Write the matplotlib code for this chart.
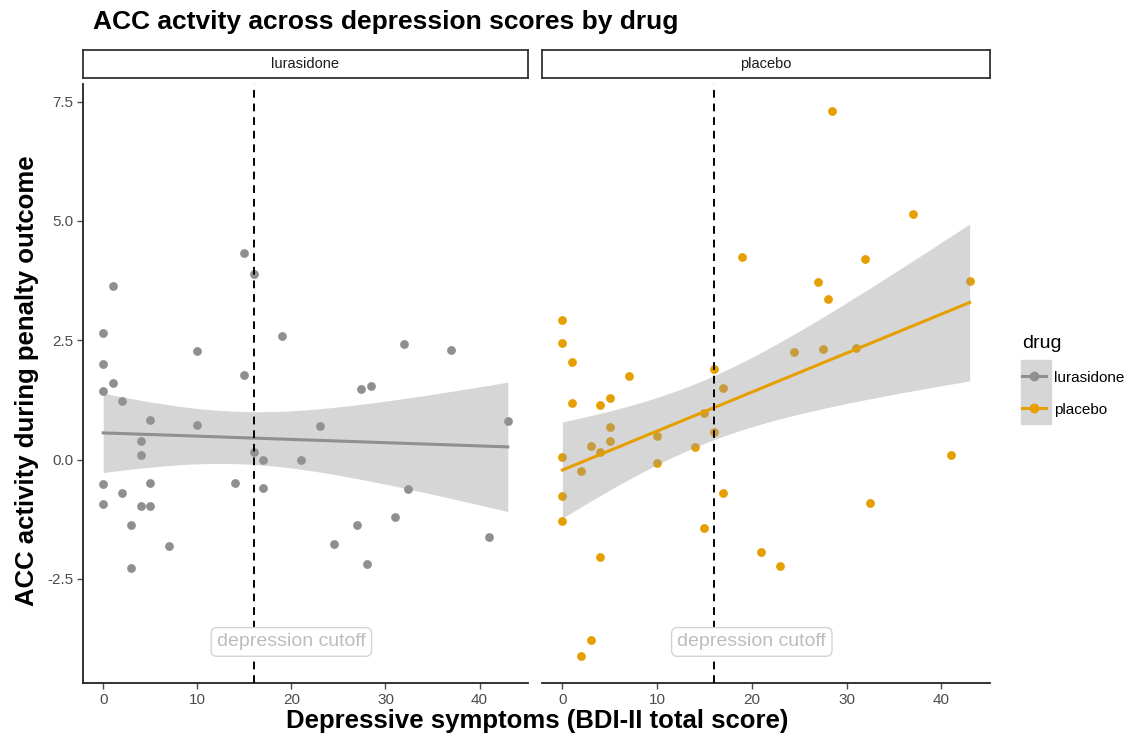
import numpy as np
import matplotlib.pyplot as plt
from matplotlib.lines import Line2D
from matplotlib.patches import Rectangle

plt.rcParams['font.family'] = ['Liberation Sans', 'DejaVu Sans']

drugs = ["lurasidone", "placebo"]
colors = {"lurasidone": "#8f8f8f", "placebo": "#E69F00"}

luras_bdi = [15, 16, 1, 0, 19, 32, 37, 10, 0, 15, 1, 0, 28.5, 27.4, 2, 5, 43, 10, 23,
             4, 4, 16, 17, 21, 0, 5, 14, 17, 2, 32.4, 0, 4, 5, 31, 3, 27, 41, 7, 24.5, 3, 28]
luras_acc = [4.33, 3.88, 3.64, 2.66, 2.59, 2.42, 2.30, 2.27, 2.00, 1.78, 1.60, 1.44, 1.55, 1.49,
             1.23, 0.83, 0.80, 0.73, 0.70, 0.39, 0.09, 0.16, 0.00, 0.00, -0.52, -0.49, -0.49,
             -0.60, -0.69, -0.62, -0.94, -0.98, -0.98, -1.20, -1.38, -1.38, -1.63, -1.81,
             -1.76, -2.28, -2.19]

plac_bdi = [28.5, 37, 19, 32, 27, 43, 28, 0, 0, 24.5, 27.5, 31, 1, 7, 16, 17, 1, 4, 5, 15,
            5, 5, 3, 10, 16, 4, 14, 0, 2, 10, 41, 0, 17, 32.5, 0, 15, 4, 21, 23, 3, 2]
plac_acc = [7.30, 5.15, 4.25, 4.20, 3.73, 3.75, 3.36, 2.92, 2.45, 2.25, 2.31, 2.33, 2.04, 1.75,
            1.89, 1.51, 1.18, 1.14, 1.29, 0.98, 0.68, 0.39, 0.29, 0.50, 0.57, 0.17, 0.26, 0.05,
            -0.23, -0.08, 0.10, -0.77, -0.70, -0.91, -1.28, -1.43, -2.05, -1.93, -2.22, -3.78,
            -4.11]

data = {"lurasidone": (luras_bdi, luras_acc), "placebo": (plac_bdi, plac_acc)}

cutoff = 16
yticks = [-2.5, 0.0, 2.5, 5.0, 7.5]
xticks = [0, 10, 20, 30, 40]


def lm_ci(x, y, grid, t=2.023):
    x = np.asarray(x, float)
    y = np.asarray(y, float)
    n = len(x)
    b, a = np.polyfit(x, y, 1)
    resid = y - (a + b * x)
    s = np.sqrt(np.sum(resid ** 2) / (n - 2))
    sxx = np.sum((x - x.mean()) ** 2)
    fit = a + b * grid
    se = s * np.sqrt(1.0 / n + (grid - x.mean()) ** 2 / sxx)
    return fit, fit - t * se, fit + t * se


fig = plt.figure(figsize=(11.34, 7.37), dpi=100)
W, H = 1134, 737
panels = [(83, 445), (542, 448)]
top, bottom = 84, 683

for i, (drug, (px, pw)) in enumerate(zip(drugs, panels)):
    ax = fig.add_axes([px / W, 1 - bottom / H, pw / W, (bottom - top) / H])
    x, y = data[drug]
    ax.scatter(x, y, s=40, color=colors[drug], zorder=2, linewidths=0)
    grid = np.linspace(min(x), max(x), 100)
    fit, lo, hi = lm_ci(x, y, grid)
    ax.fill_between(grid, lo, hi, color="#999999", alpha=0.4, linewidth=0, zorder=3)
    ax.plot(grid, fit, color=colors[drug], lw=2.2, zorder=4)
    ax.axvline(cutoff, color="black", ls=(0, (4, 3)), lw=1.4, zorder=5)
    ax.text(20, -3.82, "depression cutoff", ha="center", va="center", fontsize=14,
            color="#bdbdbd", zorder=6,
            bbox=dict(boxstyle="round,pad=0.3,rounding_size=0.3", fc="white",
                      ec="#d4d4d4", lw=1))
    ax.set_xlim(-2.15, 45.15)
    ax.set_ylim(-4.68, 7.87)
    ax.set_xticks(xticks)
    ax.set_yticks(yticks)
    ax.set_yticklabels([f"{v:.1f}" for v in yticks])
    for side in ["top", "right"]:
        ax.spines[side].set_visible(False)
    ax.spines["bottom"].set_linewidth(1.3)
    ax.spines["left"].set_linewidth(1.3)
    ax.spines["bottom"].set_color("#222222")
    ax.spines["left"].set_color("#222222")
    ax.tick_params(axis="both", colors="#4d4d4d", labelsize=11, length=4, width=1, pad=3)
    if i == 1:
        ax.spines["left"].set_visible(False)
        ax.tick_params(axis="y", left=False, labelleft=False)

    sax = fig.add_axes([px / W, 1 - 78 / H, pw / W, 28 / H])
    sax.set_xticks([])
    sax.set_yticks([])
    for sp in sax.spines.values():
        sp.set_linewidth(1.3)
        sp.set_color("#333333")
    sax.text(0.5, 0.5, drug, ha="center", va="center", fontsize=10.5, color="#1a1a1a",
             transform=sax.transAxes)

fig.text(93 / W, 1 - 22 / H, "ACC actvity across depression scores by drug", fontsize=19,
         fontweight="bold", ha="left", va="center")
fig.text(537 / W, 1 - 721 / H, "Depressive symptoms (BDI-II total score)", fontsize=18.5,
         fontweight="bold", ha="center", va="center")
fig.text(27 / W, 1 - 381 / H, "ACC activity during penalty outcome", fontsize=18.5,
         fontweight="bold", ha="center", va="center", rotation=90)

# grey key background of the legend
fig.patches.append(Rectangle((1021 / W, 1 - 424 / H), 30 / W, 64 / H,
                             transform=fig.transFigure, color="#d6d6d6", zorder=0))

handles = [Line2D([], [], color=colors[d], lw=2.2, marker="o", markersize=6, label=d)
           for d in drugs]
leg = fig.legend(handles=handles, title="drug", loc="center left",
                 bbox_to_anchor=(1008 / W, 1 - 376 / H), frameon=False, fontsize=11,
                 title_fontsize=14, handlelength=1.6, labelspacing=1.2, handletextpad=0.5)
leg._legend_box.align = "left"

fig.savefig("out.png", dpi=100)
